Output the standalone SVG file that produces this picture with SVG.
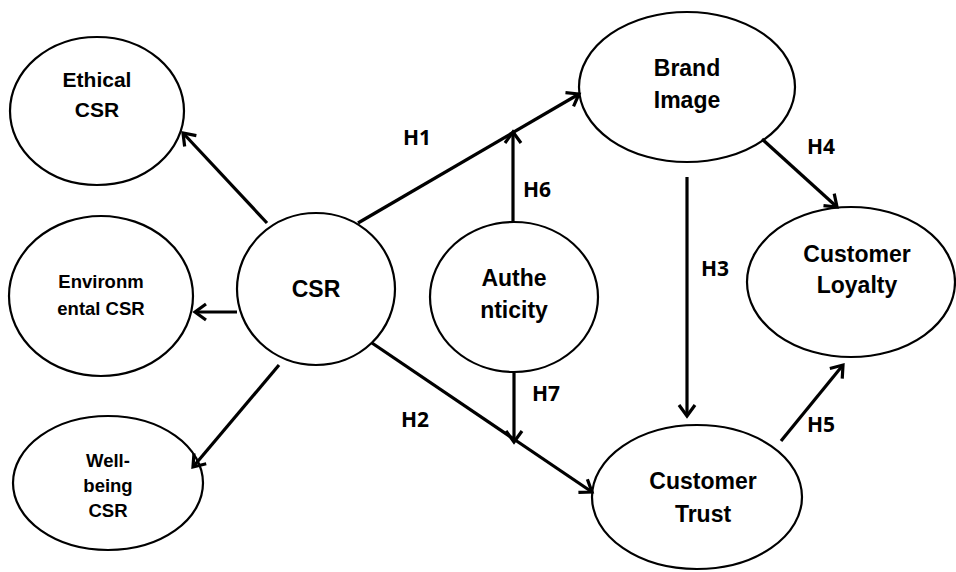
<svg xmlns="http://www.w3.org/2000/svg" width="956" height="572" viewBox="0 0 956 572">
<style>
.node{fill:#fff;stroke:#000;stroke-width:2.2}
.t{font-family:"Liberation Sans",Arial,sans-serif;font-weight:bold;fill:#000;text-anchor:middle}
.lbl{font-family:"Noto Sans","Open Sans",sans-serif;font-weight:bold;font-size:21px;fill:#000}
.c{stroke:#000;stroke-width:3.2;fill:none;marker-end:url(#ah)}
</style>
<defs>
<marker id="ah" markerUnits="userSpaceOnUse" markerWidth="26" markerHeight="26" refX="13" refY="10" orient="auto" overflow="visible">
<path d="M2,2 L13,10 L2,18" fill="none" stroke="#000" stroke-width="3.2" stroke-linejoin="miter"/>
</marker>
</defs>
<rect width="956" height="572" fill="#fff"/>
<g id="ethical"><ellipse class="node" cx="97" cy="111" rx="87" ry="74"/><text class="t" font-size="21" x="97" y="87">Ethical</text><text class="t" font-size="21" x="97" y="117">CSR</text></g>
<g id="environmental"><ellipse class="node" cx="101" cy="296" rx="92" ry="80"/><text class="t" font-size="18.5" x="101" y="288">Environm</text><text class="t" font-size="18.5" x="101" y="315">ental CSR</text></g>
<g id="wellbeing"><ellipse class="node" cx="108" cy="483" rx="95" ry="67"/><text class="t" font-size="18.5" x="108" y="467">Well-</text><text class="t" font-size="18.5" x="108" y="492">being</text><text class="t" font-size="18.5" x="108" y="517">CSR</text></g>
<g id="csr"><ellipse class="node" cx="316" cy="289" rx="79" ry="76"/><text class="t" font-size="23" x="316" y="297">CSR</text></g>
<g id="authenticity"><ellipse class="node" cx="514" cy="297" rx="84" ry="75"/><text class="t" font-size="23" x="514" y="286">Authe</text><text class="t" font-size="23" x="514" y="318">nticity</text></g>
<g id="brand"><ellipse class="node" cx="687" cy="87" rx="108" ry="75"/><text class="t" font-size="23" x="687" y="76">Brand</text><text class="t" font-size="23" x="687" y="108">Image</text></g>
<g id="loyalty"><ellipse class="node" cx="851" cy="282" rx="104" ry="75"/><text class="t" font-size="23" x="857" y="262">Customer</text><text class="t" font-size="23" x="857" y="293">Loyalty</text></g>
<g id="trust"><ellipse class="node" cx="697" cy="497" rx="105" ry="72"/><text class="t" font-size="23" x="703" y="489">Customer</text><text class="t" font-size="23" x="703" y="522">Trust</text></g>
<g id="connectors">
<line class="c" x1="267" y1="223" x2="183" y2="133"/>
<line class="c" x1="237" y1="312" x2="195" y2="312"/>
<line class="c" x1="279" y1="365" x2="193" y2="467"/>
<line class="c" x1="358" y1="223" x2="579" y2="94"/>
<line class="c" x1="513" y1="222" x2="513" y2="132"/>
<line class="c" x1="372" y1="343" x2="592" y2="492"/>
<line class="c" x1="514" y1="373" x2="514" y2="442"/>
<line class="c" x1="687" y1="177" x2="687" y2="416"/>
<line class="c" x1="762" y1="139" x2="837" y2="207"/>
<line class="c" x1="781" y1="441" x2="843" y2="365"/>
</g>
<g id="labels">
<text class="lbl" x="403" y="145">H1</text>
<text class="lbl" x="523" y="197">H6</text>
<text class="lbl" x="401" y="427">H2</text>
<text class="lbl" x="532" y="401">H7</text>
<text class="lbl" x="701" y="276">H3</text>
<text class="lbl" x="807" y="154">H4</text>
<text class="lbl" x="807" y="432">H5</text>
</g>
</svg>
